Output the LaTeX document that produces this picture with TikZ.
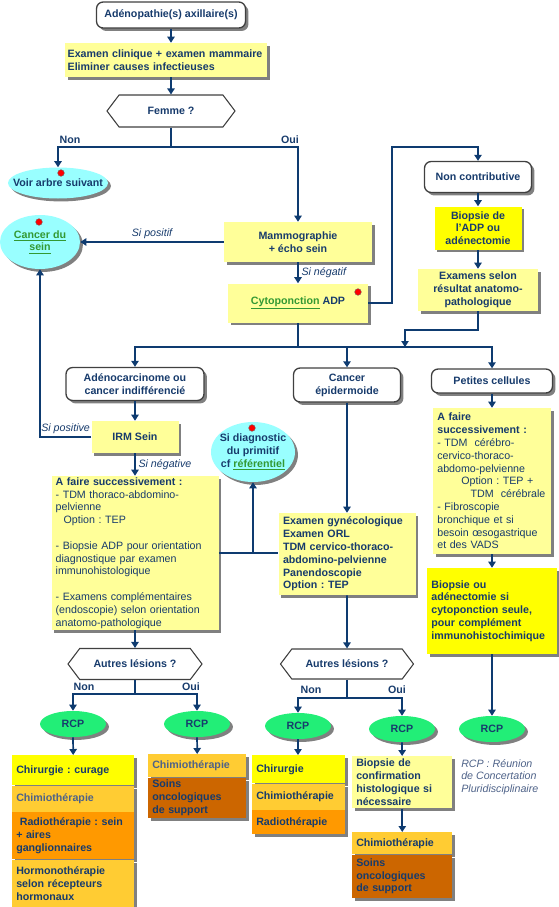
\documentclass[tikz,border=0pt]{standalone}
\usepackage{fontspec}
\setmainfont{Liberation Sans}
\usepackage{tikz}
\usetikzlibrary{shapes,arrows.meta,positioning,shadows,calc}
\usepackage{xcolor}

\definecolor{txtblue}{HTML}{173B6C}
\definecolor{fadedblue}{HTML}{4E6288}
\definecolor{flowline}{HTML}{0E3B70}
\definecolor{paleyellow}{HTML}{FFFF99}
\definecolor{brightyellow}{HTML}{FFFF00}
\definecolor{gold}{HTML}{FFCC33}
\definecolor{amber}{HTML}{FF9900}
\definecolor{rust}{HTML}{CC6600}
\definecolor{skycyan}{HTML}{99FFFF}
\definecolor{rcpgreen}{HTML}{22EE77}
\definecolor{linkgreen}{HTML}{339933}

\newcommand{\reflink}[1]{\textcolor{linkgreen}{\underline{#1}}}

\begin{document}
\frenchspacing
\begin{tikzpicture}[
    x=0.75pt, y=-0.75pt,
    every node/.style={font=\fontsize{8}{9.6}\selectfont\bfseries, text=txtblue},
    dims/.style 2 args={minimum width=#1*0.75pt, minimum height=#2*0.75pt},
    boxshadow/.style={drop shadow={shadow xshift=2.2pt, shadow yshift=-2.2pt, fill=black!50, opacity=1}},
    whitebox/.style={draw=black!75, line width=1pt, rounded corners=5pt, fill=white, boxshadow, align=center},
    ybox/.style={fill=paleyellow, boxshadow, align=center, inner xsep=3pt, inner ysep=1pt},
    lbox/.style={align=left, text width=#1},
    hexa/.style={signal, signal to=east and west, signal pointer angle=106, draw=black!75, line width=0.8pt, fill=white},
    cyanell/.style={ellipse, fill=skycyan, boxshadow, align=center, inner sep=-12pt},
    rcp/.style={ellipse, fill=rcpgreen, boxshadow, dims={66}{26}, inner sep=0pt},
    row/.style={boxshadow, align=left, inner xsep=3pt, inner ysep=1pt},
    flow/.style={draw=flowline, line width=1.3pt},
    lab/.style={inner sep=1pt},
    cond/.style={font=\fontsize{8}{9.6}\selectfont\itshape, inner sep=2pt},
    note/.style={font=\fontsize{8}{9.6}\selectfont\itshape, text=fadedblue, align=left, inner sep=0pt},
    >={Triangle[length=4.5pt, width=5.5pt]}
]

\useasboundingbox (0,0) rectangle (559,907);

% Top of the tree
\node[whitebox, dims={149}{26}] (start) at (171,15) {Adénopathie(s) axillaire(s)};
\node[ybox, dims={202}{34}, inner xsep=2pt, lbox=147.5pt] (exam) at (166,60) {Examen clinique + examen mammaire\\Eliminer causes infectieuses};
\node[hexa, dims={128}{32}] (femme) at (171,111) {Femme ?};

% Non / Oui
\node[cyanell, dims={100}{31}] (voir) at (58,183) {Voir arbre suivant};
\node[ybox, dims={148}{40}] (mammo) at (298,242) {Mammographie\\+ écho sein};
\node[cyanell, dims={80}{54}] (sein) at (40,242) {\reflink{Cancer du}\\\reflink{sein}};
\node[ybox, dims={140}{39}] (cyto) at (298,303) {\reflink{Cytoponction} ADP};

% Non contributive branch
\node[whitebox, dims={107}{31}] (noncontrib) at (478,177) {Non contributive};
\node[ybox, fill=brightyellow, dims={87}{43}] (biopsie) at (478,228) {Biopsie de\\l’ADP ou\\adénectomie};
\node[ybox, dims={120}{42}] (examsel) at (478,290) {Examens selon\\résultat anatomo-\\pathologique};

% Three types
\node[whitebox, dims={138}{33}] (adeno) at (135,384) {Adénocarcinome ou\\cancer indifférencié};
\node[whitebox, dims={107}{34}] (epider) at (347,385) {Cancer\\épidermoide};
\node[whitebox, dims={121}{24}] (petites) at (492,381) {Petites cellules};

% Adenocarcinome column
\node[ybox, dims={87}{32}] (irm) at (135,437) {IRM Sein};
\node[cyanell, dims={84}{60}] (diag) at (253,452) {Si diagnostic\\du primitif\\cf \reflink{référentiel}};
\node[ybox, dims={167}{154}, lbox=119pt, font=\fontsize{8}{9.6}\selectfont] (afaire1) at (135,553) {\textbf{A faire successivement :}\\- TDM thoraco-abdomino-\\pelvienne\\\hspace*{6pt}Option : TEP\\[9.6pt]- Biopsie ADP pour orientation\\diagnostique par examen\\immunohistologique\\[9.6pt]- Examens complémentaires\\(endoscopie) selon orientation\\anatomo-pathologique};

% Epidermoide column
\node[ybox, dims={137}{82}, lbox=96pt] (gyneco) at (347,554) {Examen gynécologique\\Examen ORL\\TDM cervico-thoraco-\\abdomino-pelvienne\\Panendoscopie\\Option : TEP};

% Petites cellules column
\node[ybox, dims={118}{146}, lbox=82pt, font=\fontsize{8}{9.6}\selectfont] (afaire2) at (492,481) {\textbf{A faire}\\\textbf{successivement :}\\- TDM\ \ cérébro-\\cervico-thoraco-\\abdomo-pelvienne\\\hspace*{18pt}Option : TEP +\\\hspace*{25pt}TDM\ \ cérébrale\\- Fibroscopie\\bronchique et si\\besoin œsogastrique\\et des VADS};
\node[ybox, fill=brightyellow, dims={130}{86}, lbox=91pt] (biopsie2) at (492,611) {Biopsie ou\\adénectomie si\\cytoponction seule,\\pour complément\\immunohistochimique};

% Autres lesions ?
\node[hexa, dims={134}{31}] (autres1) at (135,664) {Autres lésions ?};
\node[hexa, dims={133}{30}] (autres2) at (347,664) {Autres lésions ?};

% RCP
\node[rcp] (rcp1) at (73,724) {RCP};
\node[rcp] (rcp2) at (197,724) {RCP};
\node[rcp] (rcp3) at (298,726) {RCP};
\node[rcp] (rcp4) at (402,729) {RCP};
\node[rcp] (rcp5) at (492,729) {RCP};

% Treatment stacks
\node[row, fill=brightyellow, dims={122}{30}, text width=85.5pt, anchor=north west] (chir1) at (12,755) {Chirurgie : curage};
\node[row, fill=gold, dims={122}{26}, text width=85.5pt, text=fadedblue, below=0pt of chir1] (chimio1) {Chimiothérapie};
\node[row, fill=amber, dims={122}{47}, text width=85.5pt, below=0pt of chimio1] (radio1) {\ Radiothérapie : sein\\+ aires\\ganglionnaires};
\node[row, fill=gold, dims={122}{47}, text width=85.5pt, below=0pt of radio1] (hormono1) {Hormonothérapie\\selon récepteurs\\hormonaux};

\node[row, fill=gold, dims={98}{23}, text width=67.5pt, text=fadedblue, anchor=north west] (chimio2) at (148,754) {Chimiothérapie};
\node[row, fill=rust, dims={98}{40}, text width=67.5pt, below=0pt of chimio2] (soins2) {Soins\\oncologiques\\de support};

\node[row, fill=brightyellow, dims={93}{28}, text width=63.75pt, anchor=north west] (chir3) at (252,755) {Chirurgie};
\node[row, fill=gold, dims={93}{26}, text width=63.75pt, below=0pt of chir3] (chimio3) {Chimiothérapie};
\node[row, fill=amber, dims={93}{24}, text width=63.75pt, below=0pt of chimio3] (radio3) {Radiothérapie};

\node[ybox, dims={100}{52}, lbox=69pt, anchor=north west] (confirm) at (352,756) {Biopsie de\\confirmation\\histologique si\\nécessaire};
\node[row, fill=gold, dims={100}{22}, text width=69pt, anchor=north west] (chimio4) at (352,832) {Chimiothérapie};
\node[row, fill=rust, dims={100}{43}, text width=69pt, below=0pt of chimio4] (soins4) {Soins\\oncologiques\\de support};

\node[note, anchor=north west] (rcpnote) at (461,759) {RCP : Réunion\\de Concertation\\Pluridisciplinaire};

% Red dots
\foreach \px/\py in {61/173, 39/222, 358/292, 252/428}
    \fill[red, draw=black!60, line width=0.3pt] (\px,\py) circle (2.5pt);

% Connectors: top
\draw[flow, ->] (start.south) -- (start.south |- exam.north);
\draw[flow, ->] (start.south |- exam.south) -- (femme.north);
\coordinate (femmebus) at (171,147);
\draw[flow] (femme.south) -- (femmebus);
\draw[flow, ->] (femmebus) -| (voir.north);
\draw[flow, ->] (femmebus) -| (mammo.north);
\node[lab] (nonfemme) at (70,140) {Non};
\node[lab] (ouifemme) at (290,140) {Oui};

\draw[flow, ->] (mammo.west) -- (sein.east) node[cond, midway, above] (sipositif) {Si positif};
\draw[flow, ->] (mammo.south) -- (cyto.north) node[cond, midway, right] (sinegatif) {Si négatif};

\coordinate (cytoturn) at (392,147);
\draw[flow, ->] (cyto.east) -| (cytoturn) -| (noncontrib.north);
\draw[flow, ->] (noncontrib) -- (biopsie);
\draw[flow, ->] (biopsie) -- (examsel);

% Connectors: types
\coordinate (typebus) at (298,347);
\coordinate (exambend) at (405,330);
\draw[flow] (cyto.south) -- (typebus);
\draw[flow, ->] (typebus) -| (adeno.north);
\draw[flow, ->] (typebus) -| (petites.north);
\draw[flow, ->] (epider.north |- typebus) -- (epider.north);
\draw[flow, ->] (examsel.south) |- (exambend) -- (exambend |- typebus);

% Connectors: adenocarcinome
\draw[flow, ->] (adeno) -- (irm);
\draw[flow, ->] (irm.west) -| (sein.south) node[cond, pos=0.25, above] (sipositive) {Si positive};
\draw[flow, ->] (irm.south) -- (irm.south |- afaire1.north) node[cond, midway, right] (sinegative) {Si négative};
\draw[flow] (afaire1.east) -- (afaire1.east -| gyneco.west);
\draw[flow, ->] (afaire1.east -| diag.south) -- (diag.south);
\draw[flow, ->] (afaire1.south) -- (autres1.north);

% Connectors: epidermoide and petites cellules
\draw[flow, ->] (epider) -- (gyneco);
\draw[flow, ->] (gyneco) -- (autres2);
\draw[flow, ->] (petites) -- (afaire2);
\draw[flow, ->] (afaire2) -- (biopsie2);
\draw[flow, ->] (biopsie2) -- (rcp5);

% Connectors: autres lesions
\coordinate (lesbus1) at (135,694);
\draw[flow] (autres1.south) -- (lesbus1);
\draw[flow, ->] (lesbus1) -| (rcp1.north);
\draw[flow, ->] (lesbus1) -| (rcp2.north);
\node[lab] (nonles1) at (84,687) {Non};
\node[lab] (ouiles1) at (191,687) {Oui};

\coordinate (lesbus2) at (347,698);
\draw[flow] (autres2.south) -- (lesbus2);
\draw[flow, ->] (lesbus2) -| (rcp3.north);
\draw[flow, ->] (lesbus2) -| (rcp4.north);
\node[lab] (nonles2) at (311,690) {Non};
\node[lab] (ouiles2) at (397,690) {Oui};

% Connectors: treatments
\draw[flow, ->] (rcp1) -- (chir1);
\draw[flow, ->] (rcp2) -- (chimio2);
\draw[flow, ->] (rcp3.south) -- (rcp3.south |- chir3.north);
\draw[flow, ->] (rcp4) -- (confirm);
\draw[flow, ->] (confirm) -- (chimio4);

\end{tikzpicture}
\end{document}
